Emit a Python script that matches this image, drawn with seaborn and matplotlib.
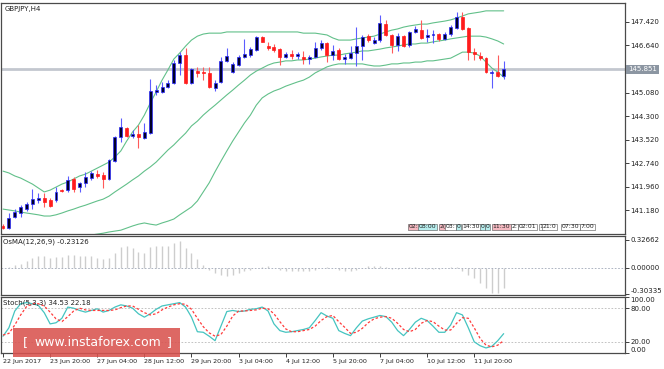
import numpy as np
import pandas as pd
import matplotlib
matplotlib.use("Agg")
import matplotlib.pyplot as plt
from matplotlib.patches import Rectangle
import matplotlib.transforms as mtransforms
import seaborn as sns

# GBPJPY H4 candles
opens = [140.64, 140.58, 140.95, 141.08, 141.21, 141.38, 141.51, 141.58, 141.51, 141.51,
         141.84, 141.84, 142.21, 141.94, 142.08, 142.24, 142.37, 142.34, 142.21, 142.81,
         143.60, 143.90, 143.64, 143.70, 143.57, 143.74, 145.10, 145.10, 145.26, 145.39,
         146.06, 146.32, 145.39, 145.79, 145.76, 145.73, 145.23, 145.43, 146.13, 145.76,
         145.99, 146.26, 146.32, 146.49, 146.92, 146.62, 146.59, 146.52, 146.26, 146.36,
         146.29, 146.26, 146.19, 146.26, 146.56, 146.72, 146.32, 146.49, 146.19, 146.22,
         146.39, 146.62, 146.95, 146.72, 146.82, 147.35, 146.99, 146.66, 146.95, 146.66,
         147.09, 147.15, 146.92, 146.99, 147.02, 146.86, 147.02, 147.22, 147.59, 147.22,
         146.42, 146.29, 146.22, 145.73, 145.76, 145.63]
highs = [140.70, 141.08, 141.21, 141.35, 141.44, 141.88, 141.74, 141.74, 141.58, 141.94,
         141.88, 142.31, 142.28, 142.11, 142.44, 142.47, 142.51, 142.44, 142.87, 143.64,
         144.23, 143.93, 143.84, 144.00, 144.07, 145.53, 145.33, 145.43, 145.49, 146.16,
         146.42, 146.56, 145.89, 145.93, 145.93, 145.93, 145.49, 146.26, 146.56, 146.09,
         146.32, 146.86, 146.59, 146.95, 146.95, 146.76, 146.69, 146.56, 146.42, 146.49,
         146.42, 146.46, 146.32, 146.76, 146.82, 146.76, 146.66, 146.56, 146.36, 146.62,
         147.25, 146.99, 147.02, 146.92, 147.65, 147.49, 147.02, 147.05, 146.99, 147.12,
         147.29, 147.49, 147.19, 147.15, 147.05, 147.09, 147.32, 147.75, 147.75, 147.25,
         146.56, 146.42, 146.26, 145.83, 146.32, 146.13]
lows = [140.55, 140.55, 140.91, 140.95, 141.15, 141.21, 141.41, 141.28, 141.28, 141.44,
        141.78, 141.78, 141.78, 141.78, 141.94, 142.18, 142.24, 141.91, 142.18, 142.78,
        143.44, 143.60, 143.57, 143.24, 143.54, 143.70, 145.00, 145.06, 145.23, 145.36,
        145.66, 145.36, 145.36, 145.59, 145.49, 145.23, 145.13, 145.39, 146.09, 145.73,
        145.96, 146.22, 146.26, 146.46, 146.74, 146.49, 146.42, 145.99, 146.22, 146.19,
        146.19, 146.03, 146.03, 146.22, 146.49, 146.09, 146.16, 146.16, 146.03, 146.19,
        145.96, 146.16, 146.76, 146.69, 146.76, 146.95, 146.39, 146.46, 146.59, 146.59,
        147.05, 146.86, 146.76, 146.72, 146.79, 146.82, 146.95, 147.19, 147.15, 146.16,
        146.16, 146.16, 145.73, 145.23, 145.59, 145.53]
closes = [140.58, 140.91, 141.11, 141.28, 141.38, 141.54, 141.58, 141.44, 141.31, 141.78,
          141.81, 142.18, 141.88, 142.08, 142.28, 142.41, 142.31, 142.21, 142.84, 143.60,
          143.93, 143.64, 143.70, 143.60, 143.77, 145.13, 145.16, 145.26, 145.39, 146.06,
          146.32, 145.39, 145.86, 145.73, 145.73, 145.26, 145.39, 146.13, 146.29, 146.03,
          146.26, 146.36, 146.52, 146.92, 146.76, 146.56, 146.49, 146.26, 146.36, 146.29,
          146.36, 146.19, 146.26, 146.56, 146.72, 146.32, 146.46, 146.19, 146.26, 146.39,
          146.62, 146.92, 146.82, 146.82, 147.39, 146.99, 146.66, 146.95, 146.62, 147.09,
          147.19, 146.89, 146.99, 147.02, 146.86, 147.02, 147.25, 147.59, 147.19, 146.42,
          146.36, 146.22, 145.76, 145.76, 145.63, 145.851]

# Bollinger bands as drawn on the chart
bb_upper = [142.47, 142.41, 142.31, 142.24, 142.14, 142.04, 141.91, 141.78, 141.84, 141.94,
            142.04, 142.11, 142.21, 142.31, 142.37, 142.47, 142.57, 142.67, 142.77, 142.94,
            143.14, 143.47, 143.77, 144.00, 144.33, 144.73, 145.10, 145.49, 145.83, 146.19,
            146.39, 146.62, 146.82, 146.95, 147.02, 147.05, 147.05, 147.05, 147.09, 147.09,
            147.09, 147.09, 147.09, 147.09, 147.09, 147.09, 147.09, 147.09, 147.09, 147.09,
            147.09, 147.05, 147.05, 147.05, 147.02, 146.99, 146.89, 146.82, 146.82, 146.82,
            146.86, 146.89, 146.92, 146.95, 147.02, 147.09, 147.15, 147.19, 147.25, 147.29,
            147.32, 147.35, 147.35, 147.39, 147.42, 147.45, 147.49, 147.55, 147.62, 147.69,
            147.72, 147.75, 147.79, 147.79, 147.79, 147.79]
bb_middle = [141.21, 141.18, 141.15, 141.11, 141.08, 141.05, 141.02, 140.98, 140.98, 141.02,
             141.08, 141.15, 141.21, 141.28, 141.34, 141.41, 141.48, 141.54, 141.64, 141.78,
             141.91, 142.04, 142.18, 142.31, 142.47, 142.61, 142.77, 142.97, 143.17, 143.34,
             143.54, 143.73, 143.97, 144.13, 144.33, 144.50, 144.66, 144.83, 145.00, 145.16,
             145.33, 145.49, 145.66, 145.79, 145.89, 145.99, 146.06, 146.09, 146.13, 146.13,
             146.16, 146.16, 146.19, 146.22, 146.26, 146.29, 146.32, 146.32, 146.36, 146.39,
             146.42, 146.46, 146.46, 146.49, 146.52, 146.56, 146.59, 146.62, 146.66, 146.69,
             146.69, 146.72, 146.72, 146.76, 146.79, 146.82, 146.86, 146.89, 146.92, 146.95,
             146.95, 146.95, 146.92, 146.86, 146.79, 146.69]
bb_lower = [139.88, 139.95, 139.98, 140.05, 140.02, 140.05, 140.12, 140.18, 140.12, 140.08,
            140.12, 140.18, 140.21, 140.25, 140.31, 140.35, 140.38, 140.41, 140.45, 140.48,
            140.51, 140.58, 140.65, 140.71, 140.75, 140.71, 140.68, 140.75, 140.81, 140.88,
            141.02, 141.15, 141.28, 141.48, 141.78, 142.08, 142.45, 142.80, 143.14, 143.47,
            143.77, 144.07, 144.33, 144.66, 144.90, 145.03, 145.13, 145.20, 145.29, 145.36,
            145.43, 145.49, 145.59, 145.73, 145.83, 145.93, 145.99, 146.03, 146.03, 146.03,
            146.03, 146.03, 145.99, 145.96, 145.96, 145.99, 146.03, 146.03, 146.06, 146.06,
            146.09, 146.09, 146.13, 146.13, 146.16, 146.19, 146.22, 146.32, 146.42, 146.42,
            146.39, 146.29, 146.09, 145.89, 145.76, 145.59]

# OsMA(12,26,9) histogram
osma = [0.00, 0.01, 0.03, 0.05, 0.08, 0.12, 0.14, 0.14, 0.12, 0.13,
        0.13, 0.15, 0.15, 0.14, 0.14, 0.14, 0.12, 0.10, 0.12, 0.18,
        0.25, 0.26, 0.23, 0.19, 0.17, 0.25, 0.26, 0.26, 0.26, 0.29,
        0.31, 0.23, 0.17, 0.10, 0.03, -0.02, -0.06, -0.08, -0.09, -0.08,
        -0.06, -0.04, -0.02, 0.00, 0.01, 0.02, 0.00, -0.02, -0.03, -0.04,
        -0.04, -0.04, -0.03, -0.02, 0.00, 0.01, 0.00, -0.02, -0.03, -0.03,
        -0.02, 0.00, 0.02, 0.02, 0.02, 0.01, -0.01, -0.01, 0.00, 0.01,
        0.01, 0.00, -0.01, -0.01, -0.01, 0.00, 0.01, 0.01, -0.03, -0.08,
        -0.12, -0.17, -0.23, -0.29, -0.29, -0.23]
osma_current = -0.23126

# Stochastic(5,3,3)
stoch_k = [30, 45, 75, 88, 90, 88, 85, 72, 52, 54,
           62, 82, 80, 76, 73, 76, 79, 73, 76, 82,
           86, 84, 80, 70, 64, 70, 78, 84, 86, 88,
           90, 82, 64, 38, 37, 30, 22, 48, 74, 76,
           74, 75, 78, 79, 82, 75, 52, 40, 37, 38,
           40, 42, 45, 58, 72, 66, 62, 40, 35, 31,
           45, 57, 61, 64, 67, 65, 55, 40, 31, 42,
           55, 62, 58, 48, 37, 37, 50, 72, 68, 45,
           20, 13, 9, 12, 22, 34.53]
stoch_d = [32, 35, 50, 68, 83, 88, 88, 84, 73, 61,
           56, 65, 75, 80, 77, 76, 76, 76, 76, 77,
           81, 84, 84, 78, 72, 68, 70, 77, 82, 86,
           88, 87, 78, 62, 47, 36, 30, 33, 48, 66,
           75, 75, 76, 77, 80, 79, 70, 56, 43, 38,
           38, 40, 42, 48, 58, 65, 67, 56, 46, 35,
           37, 44, 54, 61, 64, 65, 62, 53, 42, 38,
           42, 53, 58, 56, 48, 41, 41, 53, 63, 62,
           45, 26, 14, 11, 14, 22.18]

price_ticks = [147.420, 146.640, 145.080, 144.300, 143.520, 142.740, 141.960, 141.180]
last_price = 145.851
osma_ticks = [0.32662, 0.0, -0.30335]
stoch_ticks = [100, 80, 20, 0]

time_labels = ["22 Jun 2017", "23 Jun 20:00", "27 Jun 04:00", "28 Jun 12:00",
               "29 Jun 20:00", "3 Jul 04:00", "4 Jul 12:00", "5 Jul 20:00",
               "7 Jul 04:00", "10 Jul 12:00", "11 Jul 20:00"]
time_bars = [0, 8, 16, 24, 32, 40, 48, 56, 64, 72, 80]

# economic calendar markers along the bottom of the price window
event_labels = ["02:", "08:00", "2(", "03:", "0", "14:30", "0", "0", "11:30",
                "2:", "02:01", "1", "21:0", "07:30", "7:00"]
event_bars = [68.8, 70.6, 74.2, 75.1, 77.0, 78.0, 81.1, 81.9, 83.1,
              86.3, 87.5, 91.1, 91.6, 94.9, 98.0]
event_colors = ["#f4b8c0", "#b8eeee", "#f4b8c0", "white", "#b8eeee", "white", "#b8eeee",
                "#b8eeee", "#f4b8c0", "white", "white", "white", "white", "white", "white"]

sns.set_theme(style="white")
plt.rcParams['font.family'] = ['DejaVu Sans']

W, H = 664, 369
def rect(l, t, r, b):
    return [l / W, 1 - b / H, (r - l) / W, (b - t) / H]

fig = plt.figure(figsize=(W / 100, H / 100), dpi=100)
fig.patch.set_facecolor("white")
ax = fig.add_axes(rect(1, 3, 625, 234))
ax_os = fig.add_axes(rect(1, 236, 625, 295))
ax_st = fig.add_axes(rect(1, 297, 625, 353))

n = len(closes)
idx = np.arange(n)
df = pd.DataFrame({"i": idx, "o": opens, "h": highs, "l": lows, "c": closes,
                   "up": bb_upper, "mid": bb_middle, "lo": bb_lower,
                   "osma": osma, "k": stoch_k, "d": stoch_d})
xlim = (-0.34, 105.6)

# --- price window ---
band_col = "#62c08a"
for col in ["up", "mid", "lo"]:
    sns.lineplot(data=df, x="i", y=col, ax=ax, color=band_col, linewidth=0.8)
ax.axhline(last_price, color="#c3c7cf", linewidth=2, zorder=1)

bull = df[df.c >= df.o]
bear = df[df.c < df.o]
ax.vlines(bull.i, bull.l, bull.h, color="#5c5cff", linewidth=0.8, zorder=3)
ax.vlines(bear.i, bear.l, bear.h, color="#ff5a5a", linewidth=0.8, zorder=3)
ax.bar(bull.i, (bull.c - bull.o).clip(lower=0.02), bottom=bull.o, width=0.5,
       color="#000028", edgecolor="#2a2aff", linewidth=0.5, zorder=4)
ax.bar(bear.i, (bear.o - bear.c).clip(lower=0.02), bottom=bear.c, width=0.5,
       color="#ff1c1c", edgecolor="#ff1c1c", linewidth=0.5, zorder=4)

ax.set_xlim(*xlim)
ax.set_ylim(140.3835, 148.0506)
ax.yaxis.tick_right()
ax.set_yticks(price_ticks)
ax.set_yticklabels([f"{p:.3f}" for p in price_ticks])
ax.set_xticks([])
ax.text(0.006, 0.985, "GBPJPY,H4", transform=ax.transAxes, fontsize=5, va="top",
        ha="left", color="#202020")
ax.text(1.005, last_price, f"{last_price:.3f}",
        transform=mtransforms.blended_transform_factory(ax.transAxes, ax.transData),
        fontsize=5, va="center", ha="left", color="white", zorder=6, clip_on=False,
        bbox=dict(boxstyle="square,pad=0.25", fc="#8c96a2", ec="none"))

ev_y = 140.62
for lab, b, colr in zip(event_labels, event_bars, event_colors):
    ax.text(b, ev_y, lab, fontsize=4.4, ha="left", va="center", color="#202020", zorder=5,
            bbox=dict(boxstyle="square,pad=0.12", fc=colr, ec="#505050", lw=0.4))

# --- OsMA window ---
ax_os.vlines(df.i, 0, df.osma, color="#cdcdcd", linewidth=1.0)
ax_os.axhline(0, color="#a0a8b8", linewidth=0.6, linestyle=(0, (2, 2)))
ax_os.set_xlim(*xlim)
ax_os.set_ylim(-0.315, 0.373)
ax_os.yaxis.tick_right()
ax_os.set_yticks(osma_ticks)
ax_os.set_yticklabels([f"{v:.5f}" for v in osma_ticks])
ax_os.get_yticklabels()[-1].set_va("bottom")
ax_os.set_xticks([])
ax_os.text(0.004, 0.95, f"OsMA(12,26,9) {osma_current:.5f}", transform=ax_os.transAxes,
           fontsize=5, va="top", ha="left", color="#202020")

# --- Stochastic window ---
for lv in [80, 20]:
    ax_st.axhline(lv, color="#b8b8b8", linewidth=0.6, linestyle=(0, (2, 2)))
sns.lineplot(data=df, x="i", y="k", ax=ax_st, color="#45c4c0", linewidth=0.9)
sns.lineplot(data=df, x="i", y="d", ax=ax_st, color="#ff3b3b", linewidth=0.9,
             linestyle=(0, (2, 1.6)))
ax_st.set_xlim(*xlim)
ax_st.set_ylim(0, 100)
ax_st.yaxis.tick_right()
ax_st.set_yticks(stoch_ticks)
ax_st.set_yticklabels([f"{v:.2f}" for v in stoch_ticks])
tl = ax_st.get_yticklabels()
tl[0].set_va("top")
tl[-1].set_va("bottom")
ax_st.set_xticks(time_bars)
ax_st.set_xticklabels(time_labels)
for t in ax_st.get_xticklabels():
    t.set_ha("left")
ax_st.text(0.004, 0.95, f"Stoch(5,3,3) {stoch_k[-1]:.2f} {stoch_d[-1]:.2f}",
           transform=ax_st.transAxes, fontsize=5, va="top", ha="left", color="#202020")

for a in (ax, ax_os, ax_st):
    a.set_xlabel("")
    a.set_ylabel("")
    a.set_facecolor("white")
    for s in a.spines.values():
        s.set_visible(True)
        s.set_color("#4a4a4a")
        s.set_linewidth(0.9)
    a.tick_params(axis="y", which="both", right=True, length=3, width=0.6, pad=1,
                  labelsize=5, colors="#202020")
ax_st.tick_params(axis="x", bottom=True, length=3, width=0.6, pad=1, labelsize=4.6,
                  colors="#202020")

# watermark
fig.patches.append(Rectangle((13 / W, 1 - 357 / H), 167 / W, 29 / H, transform=fig.transFigure,
                             facecolor="#d9534f", alpha=0.88, edgecolor="none", zorder=10))
fig.text(25 / W, 1 - 343 / H, "[", fontsize=9, color="white", ha="center", va="center", zorder=11)
fig.text(98 / W, 1 - 343 / H, "www.instaforex.com", fontsize=9, color="white", ha="center",
         va="center", zorder=11)
fig.text(169 / W, 1 - 343 / H, "]", fontsize=9, color="white", ha="center", va="center", zorder=11)

fig.savefig("out.png", dpi=100)
